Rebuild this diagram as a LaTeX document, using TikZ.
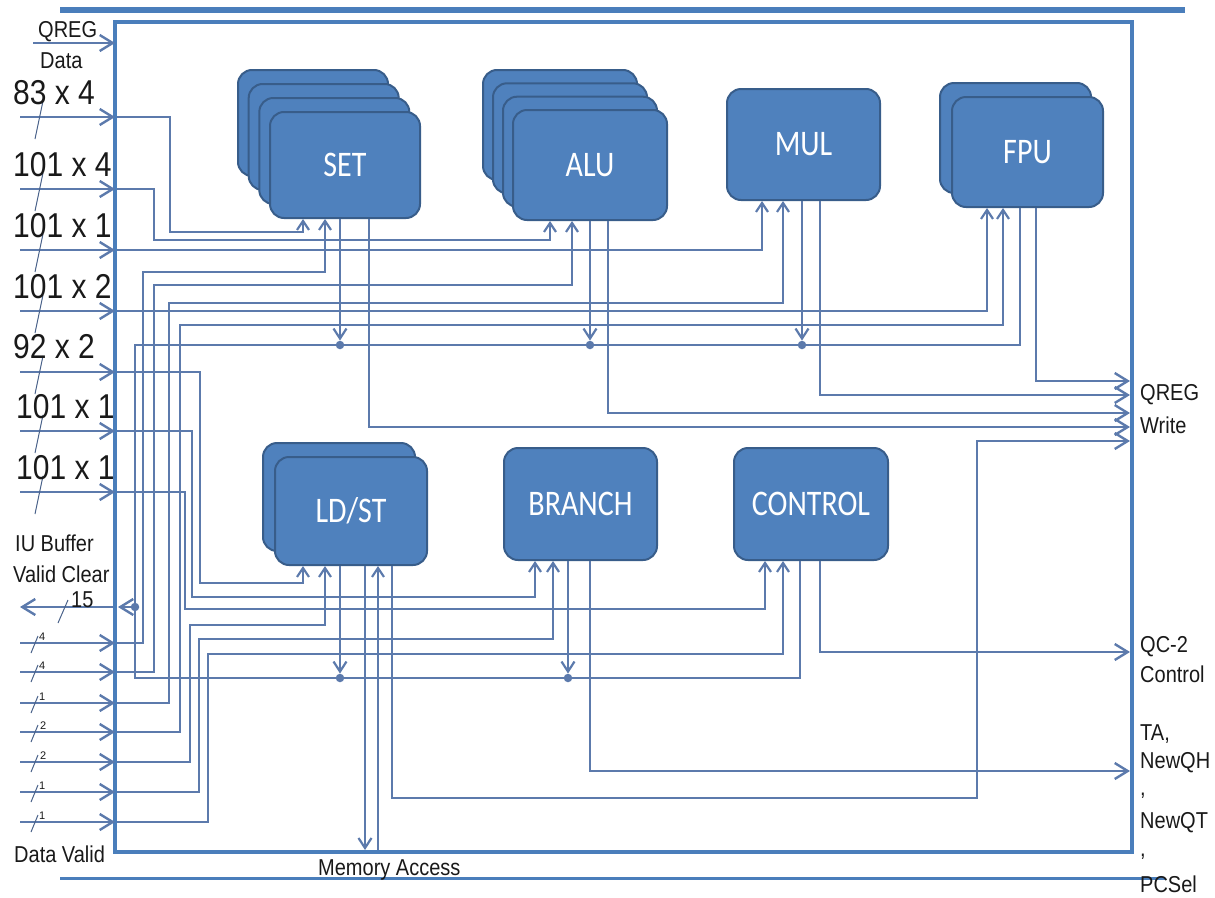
\documentclass[tikz,border=0pt]{standalone}
\usepackage{fontspec}
\usepackage{graphicx}
\setmainfont{Liberation Sans}
\newfontfamily\boxfont{Carlito}
\usetikzlibrary{arrows.meta,calc}
\definecolor{boxfill}{RGB}{79,129,189}
\definecolor{boxline}{RGB}{56,93,138}
\definecolor{wirec}{RGB}{92,122,172}
\definecolor{framec}{RGB}{74,126,187}
\definecolor{txt}{RGB}{25,25,25}
\newcommand{\vs}[1]{\scalebox{1}[1.15]{#1}}
\newcommand{\vb}[1]{\scalebox{1}[1.2]{#1}}
\begin{document}
\begin{tikzpicture}[x=1pt,y=-1pt,
  wire/.style={draw=wirec, line width=1.3pt},
  uparr/.style={-{Straight Barb[length=9pt,width=12pt,line width=2.2pt]}},
  dotarr/.style={-{Straight Barb[length=10pt,width=13pt,line width=2.2pt]}},
  framearr/.style={-{Straight Barb[length=13pt,width=16pt,line width=2.4pt]}},
  jdot/.style={circle, fill=wirec, draw=none, inner sep=0pt, minimum size=8.5pt},
  unit/.style={draw=boxline, fill=boxfill, line width=2pt, rounded corners=14pt, text=white, inner sep=0pt, font=\boxfont\fontsize{30}{32}\selectfont},
  lbl/.style={inner sep=0pt, text=txt, font=\fontsize{20}{22}\selectfont},
  buslbl/.style={inner sep=0pt, text=txt, font=\fontsize{30}{32}\selectfont},
  smallnum/.style={inner sep=0pt, text=txt, font=\fontsize{11}{12}\selectfont},
  slash/.style={draw=wirec!80!black, line width=1pt},
  frame/.style={draw=framec, line width=4.5pt}
]
\useasboundingbox (0,0) rectangle (1215,897);

% ---------- port coordinates ----------
\coordinate (iSETi) at (115,117); \coordinate (eSETi) at (20,117);
\coordinate (iALUi) at (115,189); \coordinate (eALUi) at (20,189);
\coordinate (iMULi) at (115,250); \coordinate (eMULi) at (20,250);
\coordinate (iFPUi) at (115,311); \coordinate (eFPUi) at (20,311);
\coordinate (iLSi)  at (115,372); \coordinate (eLSi)  at (20,372);
\coordinate (iBRi)  at (115,431); \coordinate (eBRi)  at (20,431);
\coordinate (iCTi)  at (115,492); \coordinate (eCTi)  at (20,492);
\coordinate (vSET) at (115,643); \coordinate (evSET) at (20,643);
\coordinate (vALU) at (115,672); \coordinate (evALU) at (20,672);
\coordinate (vMUL) at (115,703); \coordinate (evMUL) at (20,703);
\coordinate (vFPU) at (115,732); \coordinate (evFPU) at (20,732);
\coordinate (vLS)  at (115,762); \coordinate (evLS)  at (20,762);
\coordinate (vBR)  at (115,792); \coordinate (evBR)  at (20,792);
\coordinate (vCT)  at (115,822); \coordinate (evCT)  at (20,822);
\coordinate (qdS) at (33,43); \coordinate (qdE) at (115,43);
\coordinate (vcIn) at (118,607); \coordinate (vcOutS) at (113,607); \coordinate (vcOutE) at (20,607);
\coordinate (qw1) at (1130,381); \coordinate (qw2) at (1130,395);
\coordinate (qw3) at (1130,413); \coordinate (qw4) at (1130,427);
\coordinate (qw5) at (1130,441); \coordinate (lsturn) at (977,798);
\coordinate (qc2) at (1130,652); \coordinate (taout) at (1130,771);
\coordinate (memout) at (365,850); \coordinate (memin) at (378,852);
\coordinate (busTL) at (135,345); \coordinate (busBL) at (135,678);

% ---------- units ----------
\node[unit, minimum width=150pt, minimum height=106pt] (set3) at (313,123) {};
\node[unit, minimum width=150pt, minimum height=106pt] (set2) at (323.7,137) {};
\node[unit, minimum width=150pt, minimum height=106pt] (set1) at (334.3,151) {};
\node[unit, minimum width=150pt, minimum height=106pt] (set) at (345,165) {\vb{SET}};

\node[unit, minimum width=154pt, minimum height=110pt] (alu3) at (560,125) {};
\node[unit, minimum width=154pt, minimum height=110pt] (alu2) at (570,138.3) {};
\node[unit, minimum width=154pt, minimum height=110pt] (alu1) at (580,151.7) {};
\node[unit, minimum width=154pt, minimum height=110pt] (alu) at (590,165) {\vb{ALU}};

\node[unit, minimum width=153pt, minimum height=111pt] (mul) at (803.5,144.5) {\vb{MUL}};

\node[unit, minimum width=151pt, minimum height=110pt] (fpu1) at (1015.5,138) {};
\node[unit, minimum width=151pt, minimum height=110pt] (fpu) at (1027.5,152) {\vb{FPU}};

\node[unit, minimum width=152pt, minimum height=108pt] (ls1) at (339,497) {};
\node[unit, minimum width=152pt, minimum height=108pt] (ls) at (351,511) {\vb{LD/ST}};

\node[unit, minimum width=153pt, minimum height=112pt] (br) at (580.5,504) {\vb{BRANCH}};
\node[unit, minimum width=154pt, minimum height=112pt] (ct) at (811,504) {\vb{CONTROL}};

% ---------- junction dots ----------
\node[jdot] (dSET) at (340,345) {};
\node[jdot] (dALU) at (590,345) {};
\node[jdot] (dMUL) at (802,345) {};
\node[jdot] (dLS) at (340,678) {};
\node[jdot] (dBR) at (568,678) {};
\node[jdot] (dVC) at (135,607) {};

% ---------- input wiring ----------
\draw[wire,uparr] (iSETi) -| (170,232) -| ([xshift=-42pt]set.south);
\draw[wire,uparr] (vSET) -| (143,272) -| ([xshift=-20pt]set.south);
\draw[wire,uparr] (iALUi) -| (154,240) -| ([xshift=-40pt]alu.south);
\draw[wire,uparr] (vALU) -| (154,285) -| ([xshift=-18pt]alu.south);
\draw[wire,uparr] (iMULi) -| ([xshift=-41.5pt]mul.south);
\draw[wire,uparr] (vMUL) -| (169,303) -| ([xshift=-20.5pt]mul.south);
\draw[wire,uparr] (iFPUi) -| ([xshift=-40.5pt]fpu.south);
\draw[wire,uparr] (vFPU) -| (180,325) -| ([xshift=-24.5pt]fpu.south);
\draw[wire,uparr] (iLSi) -| (200,583) -| ([xshift=-48pt]ls.south);
\draw[wire,uparr] (vLS) -| (190,625) -| ([xshift=-26pt]ls.south);
\draw[wire,uparr] (iBRi) -| (192,597) -| ([xshift=-45.5pt]br.south);
\draw[wire,uparr] (vBR) -| (199,639) -| ([xshift=-27.5pt]br.south);
\draw[wire,uparr] (iCTi) -| (185,609) -| ([xshift=-46pt]ct.south);
\draw[wire,uparr] (vCT) -| (208,654) -| ([xshift=-28pt]ct.south);

% ---------- valid clear bus ----------
\draw[wire,dotarr] ([xshift=-5pt]set.south) -- (dSET);
\draw[wire,dotarr] (alu.south) -- (dALU);
\draw[wire,dotarr] ([xshift=-1.5pt]mul.south) -- (dMUL);
\draw[wire,dotarr] ([xshift=-11pt]ls.south) -- (dLS);
\draw[wire,dotarr] ([xshift=-12.5pt]br.south) -- (dBR);
\draw[wire] ([xshift=-7.5pt]fpu.south) |- (busTL) -- (busBL) -| ([xshift=-11pt]ct.south);
\draw[wire,framearr] (dVC) -- (vcIn);

% ---------- QREG write and other outputs ----------
\draw[wire,framearr] ([xshift=8.5pt]fpu.south) |- (qw1);
\draw[wire,framearr] ([xshift=16.5pt]mul.south) |- (qw2);
\draw[wire,framearr] ([xshift=18pt]alu.south) |- (qw3);
\draw[wire,framearr] ([xshift=24pt]set.south) |- (qw4);
\draw[wire,framearr] ([xshift=41pt]ls.south) |- (lsturn) |- (qw5);
\draw[wire,framearr] ([xshift=9pt]ct.south) |- (qc2);
\draw[wire,framearr] ([xshift=9.5pt]br.south) |- (taout);
\draw[wire,dotarr] ([xshift=14pt]ls.south) -- (memout);
\draw[wire,uparr] (memin) -- ([xshift=27pt]ls.south);

% ---------- frame ----------
\draw[frame] (115,22) rectangle (1132,852);
\draw[draw=framec, line width=6pt] (60,10) -- (1185,10);
\draw[draw=framec, line width=3pt] (60,878) -- (1165,878);

% ---------- external left arrows ----------
\draw[wire,framearr] (qdS) -- (qdE);
\draw[wire,framearr] (eSETi) -- (iSETi);
\draw[wire,framearr] (eALUi) -- (iALUi);
\draw[wire,framearr] (eMULi) -- (iMULi);
\draw[wire,framearr] (eFPUi) -- (iFPUi);
\draw[wire,framearr] (eLSi) -- (iLSi);
\draw[wire,framearr] (eBRi) -- (iBRi);
\draw[wire,framearr] (eCTi) -- (iCTi);
\draw[wire,framearr] (evSET) -- (vSET);
\draw[wire,framearr] (evALU) -- (vALU);
\draw[wire,framearr] (evMUL) -- (vMUL);
\draw[wire,framearr] (evFPU) -- (vFPU);
\draw[wire,framearr] (evLS) -- (vLS);
\draw[wire,framearr] (evBR) -- (vBR);
\draw[wire,framearr] (evCT) -- (vCT);
\draw[wire,framearr] (vcOutS) -- (vcOutE);

% ---------- bus width slashes ----------
\foreach \yy in {117,189,250,311,372,431,492} {
  \draw[slash] (43,\yy-16) -- (35,\yy+22);
}
\foreach \yy in {643,672,703,732,762,792,822} {
  \draw[slash] (31,\yy+10) -- (38,\yy-7);
}
\draw[slash] (58,623) -- (68,600);

% ---------- left labels ----------
\node[lbl, anchor=base west] (tQREGd) at (38,37) {\vs{QREG}};
\node[lbl, anchor=base west] (tData) at (40,68) {\vs{Data}};
\node[buslbl, anchor=base west] (b1) at (13,104) {\vs{83 x 4}};
\node[buslbl, anchor=base west] (b2) at (13,176) {\vs{101 x 4}};
\node[buslbl, anchor=base west] (b3) at (13,237) {\vs{101 x 1}};
\node[buslbl, anchor=base west] (b4) at (13,298) {\vs{101 x 2}};
\node[buslbl, anchor=base west] (b5) at (13,358) {\vs{92 x 2}};
\node[buslbl, anchor=base west] (b6) at (16,418) {\vs{101 x 1}};
\node[buslbl, anchor=base west] (b7) at (16,479) {\vs{101 x 1}};
\node[lbl, anchor=base west] (tIU) at (15,551) {\vs{IU Buffer}};
\node[lbl, anchor=base west] (tVC) at (13,582) {\vs{Valid Clear}};
\node[lbl, anchor=base west] (t15) at (71,607) {\vs{15}};
\node[smallnum, anchor=south west] (s1) at (39,641) {4};
\node[smallnum, anchor=south west] (s2) at (39,670) {4};
\node[smallnum, anchor=south west] (s3) at (39,701) {1};
\node[smallnum, anchor=south west] (s4) at (40,730) {2};
\node[smallnum, anchor=south west] (s5) at (40,760) {2};
\node[smallnum, anchor=south west] (s6) at (39,790) {1};
\node[smallnum, anchor=south west] (s7) at (39,820) {1};
\node[lbl, anchor=base west] (tDV) at (14,862) {\vs{Data Valid}};
\node[lbl, anchor=base west] (tMem) at (318,875) {\vs{Memory Access}};

% ---------- right labels ----------
\node[lbl, anchor=base west] (rq1) at (1140,400) {\vs{QREG}};
\node[lbl, anchor=base west] (rq2) at (1140,433) {\vs{Write}};
\node[lbl, anchor=base west] (rc1) at (1140,652) {\vs{QC-2}};
\node[lbl, anchor=base west] (rc2) at (1140,682) {\vs{Control}};
\node[lbl, anchor=base west] (rt1) at (1140,740) {\vs{TA,}};
\node[lbl, anchor=base west] (rt2) at (1140,768) {\vs{NewQH}};
\node[lbl, anchor=base west] (rt3) at (1140,795) {\vs{,}};
\node[lbl, anchor=base west] (rt4) at (1140,828) {\vs{NewQT}};
\node[lbl, anchor=base west] (rt5) at (1140,856) {\vs{,}};
\node[lbl, anchor=base west] (rt6) at (1140,892) {\vs{PCSel}};
\end{tikzpicture}
\end{document}
